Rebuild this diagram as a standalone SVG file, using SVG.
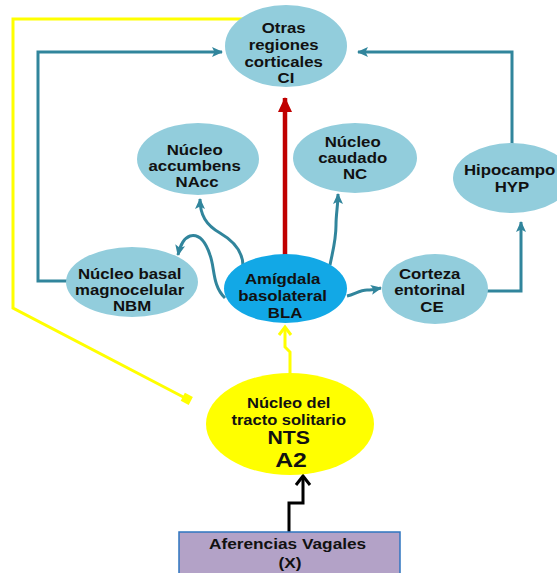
<svg xmlns="http://www.w3.org/2000/svg" width="557" height="573" viewBox="0 0 557 573">
  <defs>
    <style>
      .node { fill: #92cddc; }
      .bla { fill: #12a8e6; }
      .nts { fill: #ffff00; }
      .box { fill: #b3a2c7; stroke: #2f75c0; stroke-width: 1.5; }
      .lbl { font-family: "Liberation Sans", Arial, sans-serif; font-weight: bold; font-size: 14px; fill: #111; text-anchor: middle; }
      .teal { fill: none; stroke: #31859c; stroke-width: 3; }
      .yel { fill: none; stroke: #ffff00; stroke-width: 3; }
      .red { fill: none; stroke: #c00000; stroke-width: 4.5; }
      .blk { fill: none; stroke: #000; stroke-width: 3; }
    </style>
    <marker id="arrTeal" markerUnits="userSpaceOnUse" markerWidth="12" markerHeight="12" viewBox="0 0 12 12" refX="10" refY="6" orient="auto">
      <path d="M0,1 L11,6 L0,11 L2.5,6 z" fill="#31859c"/>
    </marker>
    <marker id="arrRed" markerUnits="userSpaceOnUse" markerWidth="16" markerHeight="16" viewBox="0 0 16 16" refX="14" refY="8" orient="auto">
      <path d="M0,1 L15,8 L0,15 z" fill="#c00000"/>
    </marker>
    <marker id="sqYel" markerUnits="userSpaceOnUse" markerWidth="12" markerHeight="12" viewBox="0 0 12 12" refX="8" refY="6" orient="auto">
      <rect x="1" y="1.5" width="9" height="9" fill="#ffff00"/>
    </marker>
  </defs>

  <!-- connectors -->
  <g id="connectors">
    <!-- NTS feedback to cortex (yellow loop) -->
    <path class="yel" d="M250,19 H13 V308 L189,400" marker-end="url(#sqYel)"/>
    <!-- NBM -> CI -->
    <path class="teal" d="M68,281 H38 V52 H222" marker-end="url(#arrTeal)"/>
    <!-- HYP -> CI -->
    <path class="teal" d="M512,145 V52 H358" marker-end="url(#arrTeal)"/>
    <!-- CE -> HYP -->
    <path class="teal" d="M485,291 H521 V222" marker-end="url(#arrTeal)"/>
    <!-- BLA -> CI -->
    <path class="red" d="M285,256 V98" marker-end="url(#arrRed)"/>
    <!-- BLA -> NAcc -->
    <path class="teal" d="M243,266 C243,250 232,240 220,233 C206,225 200,215 200,199" marker-end="url(#arrTeal)"/>
    <!-- BLA -> NBM -->
    <path class="teal" d="M225,298 C212,285 215,268 210,255 C205,240 198,234 190,236 C184,238 180,246 178,255" marker-end="url(#arrTeal)"/>
    <!-- BLA -> NC -->
    <path class="teal" d="M330,265 C333,250 336,240 336,225 C336,214 338,205 338,194" marker-end="url(#arrTeal)"/>
    <!-- BLA -> CE -->
    <path class="teal" d="M347,296 C355,294 360,290 367,290 C372,290 376,289 381,288" marker-end="url(#arrTeal)"/>
    <!-- NTS -> BLA -->
    <path class="yel" d="M290,374 V352 L285,347 V328"/>
    <path class="yel" d="M279,335 L285,327 L291,335"/>
    <!-- Vagal afferents -> NTS -->
    <path class="blk" d="M289,532 V503 H303 V477"/>
    <path class="blk" d="M296,485 L303,476 L310,485"/>
  </g>

  <!-- nodes -->
  <g id="ci">
    <ellipse class="node" cx="286" cy="46" rx="61" ry="41"/>
    <text class="lbl" transform="translate(286,0) scale(1.2,1)">
      <tspan x="0" y="33">Otras</tspan>
      <tspan x="0" y="50">regiones</tspan>
      <tspan x="0" y="67">corticales</tspan>
      <tspan x="0" y="83">CI</tspan>
    </text>
  </g>

  <g id="nacc">
    <ellipse class="node" cx="198" cy="159" rx="61" ry="36"/>
    <text class="lbl" transform="translate(197,0) scale(1.2,1)">
      <tspan x="0" y="155">Núcleo</tspan>
      <tspan x="0" y="171">accumbens</tspan>
      <tspan x="0" y="187">NAcc</tspan>
    </text>
  </g>

  <g id="nc">
    <ellipse class="node" cx="355" cy="158" rx="62" ry="35"/>
    <text class="lbl" transform="translate(355,0) scale(1.2,1)">
      <tspan x="0" y="147">Núcleo</tspan>
      <tspan x="0" y="163">caudado</tspan>
      <tspan x="0" y="179">NC</tspan>
    </text>
  </g>

  <g id="hyp">
    <ellipse class="node" cx="512" cy="178" rx="59" ry="35"/>
    <text class="lbl" transform="translate(512,0) scale(1.2,1)">
      <tspan x="0" y="175">Hipocampo</tspan>
      <tspan x="0" y="192">HYP</tspan>
    </text>
  </g>

  <g id="nbm">
    <ellipse class="node" cx="132" cy="282" rx="66" ry="35"/>
    <text class="lbl" transform="translate(132,0) scale(1.2,1)">
      <tspan x="0" y="279">Núcleo basal</tspan>
      <tspan x="0" y="295">magnocelular</tspan>
      <tspan x="0" y="311">NBM</tspan>
    </text>
  </g>

  <g id="bla">
    <ellipse class="bla" cx="285.5" cy="288.5" rx="61.5" ry="34.5"/>
    <text class="lbl" transform="translate(285,0) scale(1.2,1)">
      <tspan x="0" y="284">Amígdala</tspan>
      <tspan x="0" y="301">basolateral</tspan>
      <tspan x="0" y="318">BLA</tspan>
    </text>
  </g>

  <g id="ce">
    <ellipse class="node" cx="435" cy="289" rx="53" ry="35"/>
    <text class="lbl" transform="translate(432,0) scale(1.2,1)">
      <tspan x="0" y="279">Corteza</tspan>
      <tspan x="0" y="295">entorinal</tspan>
      <tspan x="0" y="312">CE</tspan>
    </text>
  </g>

  <g id="nts">
    <ellipse class="nts" cx="290" cy="424" rx="84" ry="51"/>
    <text class="lbl" transform="translate(291,0) scale(1.18,1)">
      <tspan x="0" y="408">Núcleo del</tspan>
      <tspan x="0" y="425">tracto solitario</tspan>
      <tspan x="0" y="444" style="font-size:18px">NTS</tspan>
      <tspan x="0" y="467" style="font-size:21px">A2</tspan>
    </text>
  </g>

  <g id="vagal">
    <rect class="box" x="179" y="532" width="221" height="45"/>
    <text class="lbl" transform="translate(290,0) scale(1.15,1)" style="font-size:15px">
      <tspan x="0" y="549">Aferencias Vagales</tspan>
      <tspan x="0" y="568">(X)</tspan>
    </text>
  </g>
</svg>
